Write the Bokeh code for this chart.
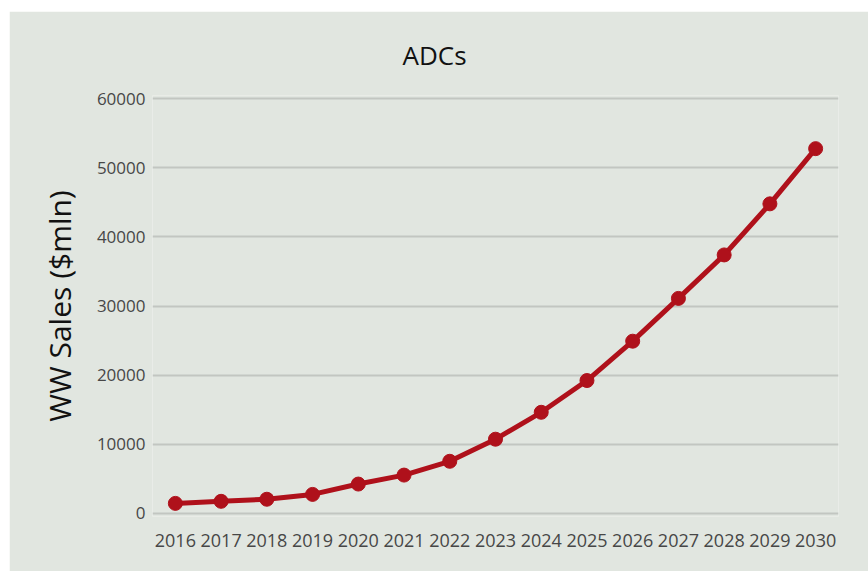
from bokeh.plotting import figure
from bokeh.models import FactorRange, Range1d, FixedTicker, Spacer
from bokeh.layouts import column, row
from bokeh.embed import file_html
from bokeh.resources import INLINE

years = [str(y) for y in range(2016, 2031)]
sales = [1400, 1700, 2000, 2700, 4200, 5500, 7500, 10700, 14600,
         19200, 24900, 31100, 37400, 44800, 52800]
y_ticks = [0, 10000, 20000, 30000, 40000, 50000, 60000]

BG = "#e1e6e0"
RED = "#af111b"

p = figure(width=859, height=560, x_range=FactorRange(*years, range_padding=0),
           y_range=Range1d(-500, 60500), output_backend="svg", toolbar_location=None,
           background_fill_color=BG, border_fill_color=BG, outline_line_color=None,
           min_border_left=143, min_border_right=30, min_border_top=84,
           min_border_bottom=55, title="ADCs")

p.title.align = "left"
p.title.offset = 250
p.title.text_font = "Open Sans"
p.title.text_font_size = "26px"
p.title.text_font_style = "normal"
p.title.text_color = "#111111"
p.title.standoff = 46

p.line(years, sales, line_color=RED, line_width=5)
p.scatter(years, sales, size=14, fill_color=RED, line_color=RED)

p.yaxis.ticker = FixedTicker(ticks=y_ticks)
p.yaxis.axis_label = "WW Sales ($mln)"
p.yaxis.axis_label_text_font = "Open Sans"
p.yaxis.axis_label_text_font_size = "30px"
p.yaxis.axis_label_text_font_style = "normal"
p.yaxis.axis_label_text_color = "#111111"
p.yaxis.axis_label_standoff = 14

for ax in (p.xaxis, p.yaxis):
    ax.axis_line_color = None
    ax.major_tick_line_color = None
    ax.minor_tick_line_color = None
    ax.major_label_text_font = "Open Sans"
    ax.major_label_text_color = "#474747"
p.yaxis.major_label_text_font_size = "17px"
p.xaxis.major_label_text_font_size = "18px"
p.yaxis.major_label_standoff = 1
p.xaxis.major_label_standoff = 11

p.xgrid.grid_line_color = None
p.ygrid.grid_line_color = "#c2c6c1"
p.ygrid.grid_line_width = 2

layout = column(Spacer(height=11), row(Spacer(width=9), p))
open("out.html", "w").write(file_html(layout, INLINE))
